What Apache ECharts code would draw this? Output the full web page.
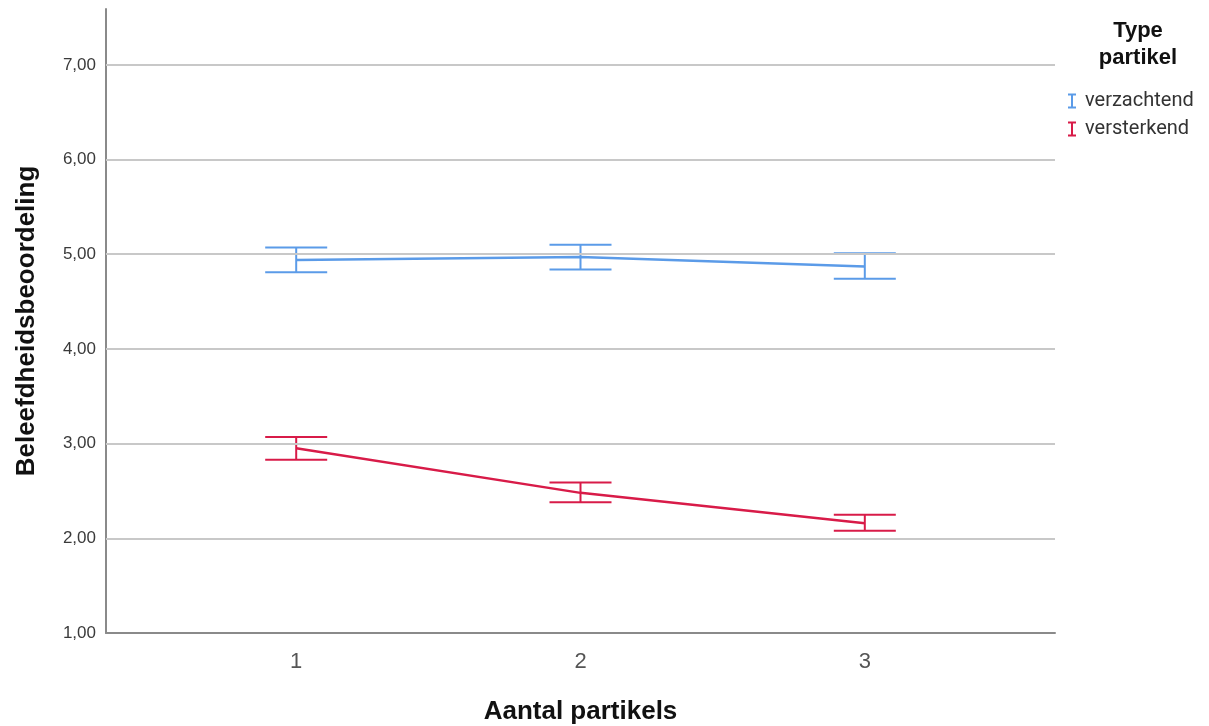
<!DOCTYPE html>
<html><head><meta charset="utf-8">
<script src="https://cdn.jsdelivr.net/npm/echarts@6/dist/echarts.min.js"></script>
<style>html,body{margin:0;padding:0;background:#fff}#c{width:1209px;height:726px}</style>
</head><body><div id="c"></div>
<script>
const categories = [1, 2, 3];
const yTicks = [2, 3, 4, 5, 6, 7];
const softName = 'verzachtend';
const softMean = [4.94, 4.97, 4.87];
const softLow = [4.81, 4.84, 4.74];
const softHigh = [5.07, 5.10, 5.01];
const strongName = 'versterkend';
const strongMean = [2.95, 2.48, 2.16];
const strongLow = [2.83, 2.38, 2.08];
const strongHigh = [3.07, 2.59, 2.25];

const blue = '#5b9be8';
const red = '#d81b48';
const font = '"Liberation Sans", Arial, sans-serif';

function errSeries(name, low, high, color) {
  return {
    type: 'custom', name: name, silent: true, z: 3,
    data: categories.map((c, i) => [c, low[i], high[i]]),
    renderItem: function (params, api) {
      const lo = api.coord([api.value(0), api.value(1)]);
      const hi = api.coord([api.value(0), api.value(2)]);
      const hw = 31;
      const st = { stroke: color, lineWidth: 2, fill: null };
      return { type: 'group', children: [
        { type: 'line', shape: { x1: lo[0], y1: lo[1], x2: hi[0], y2: hi[1] }, style: st },
        { type: 'line', shape: { x1: lo[0] - hw, y1: lo[1], x2: lo[0] + hw, y2: lo[1] }, style: st },
        { type: 'line', shape: { x1: hi[0] - hw, y1: hi[1], x2: hi[0] + hw, y2: hi[1] }, style: st }
      ]};
    }
  };
}
function meanSeries(name, mean, color) {
  return {
    type: 'line', name: name, symbol: 'none', z: 4,
    data: categories.map((c, i) => [c, mean[i]]),
    lineStyle: { color: color, width: 2.5 }, itemStyle: { color: color }
  };
}
const ibeam = 'path://M0,0H8V2H5V13H8V15H0V13H3V2H0Z';

const chart = echarts.init(document.getElementById('c'));
chart.setOption({
  animation: false,
  backgroundColor: '#fff',
  grid: { left: 106, right: 154, top: 9, bottom: 93, containLabel: false, outerBoundsMode: 'none' },
  title: {
    text: 'Type\npartikel', left: 1133, top: 12, textAlign: 'center',
    textStyle: { fontFamily: font, fontSize: 22, fontWeight: 'bold', color: '#111', lineHeight: 27 }
  },
  legend: {
    orient: 'vertical', left: 1063, top: 86, itemGap: 8, itemWidth: 8, itemHeight: 15,
    data: [{ name: softName, icon: ibeam, itemStyle: { color: blue } },
           { name: strongName, icon: ibeam, itemStyle: { color: red } }],
    textStyle: { fontFamily: 'Roboto, sans-serif', fontSize: 20, color: '#333', padding: [0, 0, 0, 4], lineHeight: 20 }
  },
  xAxis: {
    type: 'value', min: 0.331, max: 3.669,
    name: 'Aantal partikels', nameLocation: 'middle', nameGap: 66,
    nameTextStyle: { fontFamily: font, fontSize: 26, fontWeight: 'bold', color: '#111' },
    axisLine: { show: true, lineStyle: { color: '#8a8a8a', width: 2 } },
    axisTick: { show: false },
    splitLine: { show: false },
    axisLabel: { customValues: categories, margin: 18, fontFamily: font, fontSize: 22, color: '#555' }
  },
  yAxis: {
    type: 'value', min: 1, max: 7.59,
    name: 'Beleefdheidsbeoordeling', nameLocation: 'middle', nameGap: 66,
    nameTextStyle: { fontFamily: font, fontSize: 26, fontWeight: 'bold', color: '#111' },
    axisLine: { show: true, lineStyle: { color: '#8a8a8a', width: 2 } },
    axisTick: { show: false },
    splitLine: { show: false },
    axisLabel: { customValues: [1].concat(yTicks), margin: 10, fontFamily: font, fontSize: 17, color: '#3a3a3a',
      padding: [8, 0, 0, 0],
      formatter: v => v.toFixed(2).replace('.', ',') }
  },
  series: [
    {
      type: 'line', data: [], silent: true, z: 1,
      markLine: { silent: true, symbol: 'none', label: { show: false },
        lineStyle: { color: '#c8c8c8', width: 2, type: 'solid' },
        data: yTicks.map(v => ({ yAxis: v })) }
    },
    meanSeries(softName, softMean, blue),
    errSeries(softName, softLow, softHigh, blue),
    meanSeries(strongName, strongMean, red),
    errSeries(strongName, strongLow, strongHigh, red)
  ]
});
</script></body></html>
